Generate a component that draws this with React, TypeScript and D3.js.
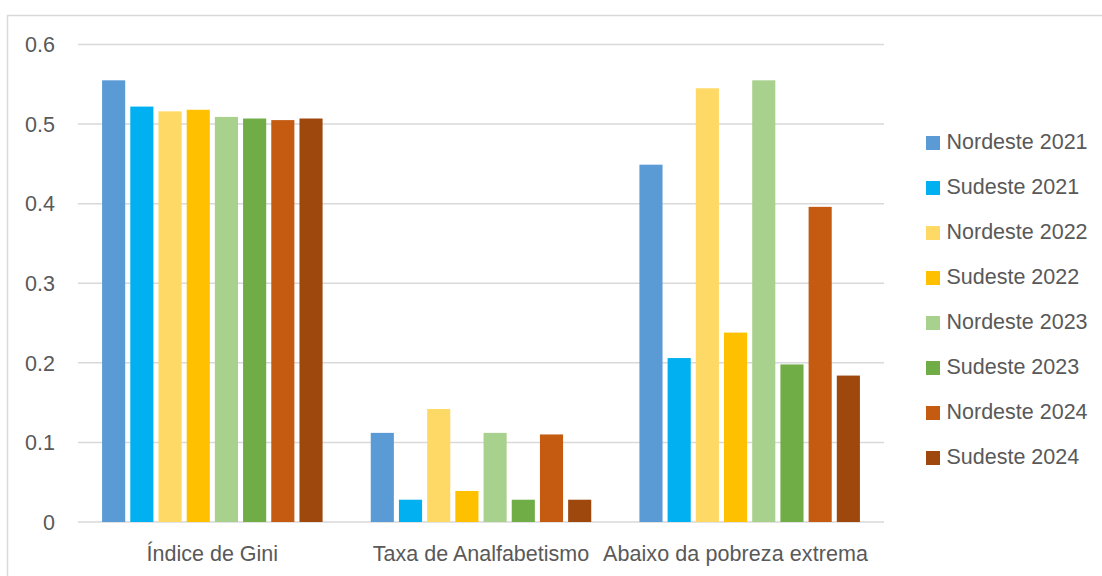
import React from "react";
import * as d3 from "d3";

const categories = ["Índice de Gini", "Taxa de Analfabetismo", "Abaixo da pobreza extrema"];
const seriesNames = [
  "Nordeste 2021",
  "Sudeste 2021",
  "Nordeste 2022",
  "Sudeste 2022",
  "Nordeste 2023",
  "Sudeste 2023",
  "Nordeste 2024",
  "Sudeste 2024",
];
const seriesColors = ["#5B9BD5", "#00B0F0", "#FFD966", "#FFC000", "#A9D18E", "#70AD47", "#C55A11", "#9E480E"];
// values[series][category]
const nordeste2021 = [0.555, 0.112, 0.449];
const sudeste2021 = [0.522, 0.028, 0.206];
const nordeste2022 = [0.516, 0.142, 0.545];
const sudeste2022 = [0.518, 0.039, 0.238];
const nordeste2023 = [0.509, 0.112, 0.555];
const sudeste2023 = [0.507, 0.028, 0.198];
const nordeste2024 = [0.505, 0.11, 0.396];
const sudeste2024 = [0.507, 0.028, 0.184];
const seriesValues = [nordeste2021, sudeste2021, nordeste2022, sudeste2022, nordeste2023, sudeste2023, nordeste2024, sudeste2024];
const yTicks = [0, 0.1, 0.2, 0.3, 0.4, 0.5, 0.6];

const W = 1102;
const H = 576;
const plotLeft = 78;
const plotRight = 884;
const plotTop = 44.5;
const plotBottom = 522;
const FONT = "'Liberation Sans', Arial, sans-serif";
const TEXT = "#595959";
const GRID = "#D9D9D9";

export default function App() {
  const x0 = d3.scaleBand<string>().domain(categories).range([plotLeft, plotRight]).paddingInner(0).paddingOuter(0);
  const groupW = 220.5;
  const x1 = d3
    .scaleBand<string>()
    .domain(seriesNames)
    .range([-groupW / 2, groupW / 2])
    .paddingInner(0.18)
    .paddingOuter(0);
  const y = d3.scaleLinear().domain([0, 0.6]).range([plotBottom, plotTop]);

  return (
    <svg
      width={W}
      height={H}
      style={{ position: "absolute", left: 0, top: 0, background: "#fff" }}
      fontFamily={FONT}
    >
      <rect x={7.5} y={15.5} width={W} height={H} fill="#fff" stroke={GRID} strokeWidth={1.5} />
      {yTicks.map((t) => (
        <g key={t}>
          <line x1={plotLeft} x2={plotRight} y1={y(t)} y2={y(t)} stroke={GRID} strokeWidth={1.5} />
          <text x={55} y={y(t)} dy="0.36em" textAnchor="end" fontSize={21.5} fill={TEXT}>
            {d3.format("~g")(t)}
          </text>
        </g>
      ))}
      {categories.map((c, ci) => {
        const isLast = ci === categories.length - 1;
        const cx = x0.bandwidth() / 2;
        return (
          <g key={c} transform={`translate(${x0(c)!},0)`}>
            {seriesNames.map((s, si) => {
              const v = seriesValues[si][ci];
              return (
                <rect
                  key={s}
                  x={cx + x1(s)!}
                  y={y(v)}
                  width={x1.bandwidth()}
                  height={y(0) - y(v)}
                  fill={seriesColors[si]}
                />
              );
            })}
            <text
              x={isLast ? x0.bandwidth() - 16 : cx}
              y={561}
              textAnchor={isLast ? "end" : "middle"}
              fontSize={21.5}
              fill={TEXT}
              textLength={isLast ? 265 : undefined}
            >
              {c}
            </text>
          </g>
        );
      })}
      {seriesNames.map((s, si) => (
        <g key={s} transform={`translate(926,${136 + si * 45})`}>
          <rect x={0} y={0} width={14} height={14} fill={seriesColors[si]} />
          <text x={20.5} y={13} fontSize={21.5} fill={TEXT}>
            {s}
          </text>
        </g>
      ))}
    </svg>
  );
}
